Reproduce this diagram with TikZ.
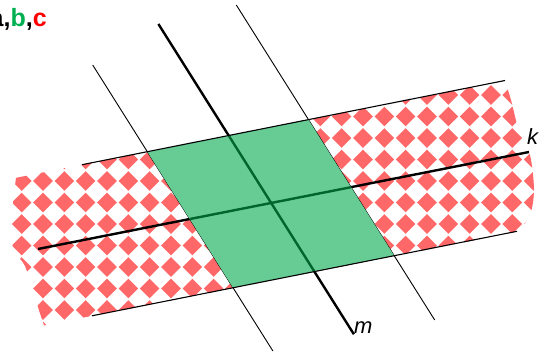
\documentclass[tikz,border=0pt]{standalone}
\usepackage{fontspec}
\setmainfont{Liberation Sans}
\definecolor{fillgreen}{RGB}{102,204,148}
\definecolor{darkgreen}{RGB}{0,100,45}
\definecolor{dotred}{RGB}{255,104,104}
\definecolor{titlegreen}{RGB}{0,176,80}
\definecolor{titlered}{RGB}{255,0,0}
\begin{document}
\begin{tikzpicture}[x=1pt,y=-1pt,
  thickline/.style={line width=2.4pt},
  thinline/.style={line width=0.9pt},
  edgeline/.style={line width=1.1pt},
  lbl/.style={anchor=base west,inner sep=0pt,font=\itshape\fontsize{22}{26}\selectfont}]
\useasboundingbox (0,0) rectangle (547,353);
% key points
\coordinate (TA) at (82,164.7);
\coordinate (TB) at (505,80.5);
\coordinate (BA) at (92,315.8);
\coordinate (BB) at (517,231.3);
\coordinate (K1) at (38,249);
\coordinate (K2) at (529,152);
\coordinate (M1) at (158.4,24);
\coordinate (M2) at (353.9,334.3);
\coordinate (L1) at (92.7,65);
\coordinate (L2) at (272.9,351);
\coordinate (R1) at (236.3,5);
\coordinate (R2) at (434.7,320);
\coordinate (G1) at (147.3,151.7);
\coordinate (G2) at (308.4,119.6);
\coordinate (G3) at (394.2,255.7);
\coordinate (G4) at (233.0,287.7);
\coordinate (KL) at (intersection of K1--K2 and G1--G4);
\coordinate (KR) at (intersection of K1--K2 and G2--G3);
\coordinate (MT) at (intersection of M1--M2 and G1--G2);
\coordinate (MB) at (intersection of M1--M2 and G4--G3);
% patterned strip
\begin{scope}
\clip (16,177.8) -- (505,80.5)
  -- plot[smooth] coordinates {(505,80.5) (511,100) (518,127) (530,155) (534,190) (530,215) (518,231.5)}
  -- (44,325.4)
  -- plot[smooth] coordinates {(44,325.4) (35,298) (25,266) (13,248) (12,215) (16,177.8)}
  -- cycle;
\foreach \i in {0,...,25}{
  \foreach \j in {-1,...,12}{
    \pgfmathsetmacro\cx{21.7+21.33*\i}
    \pgfmathsetmacro\cy{95+21.5*\j}
    \fill[dotred] (\cx-9.8,\cy) -- (\cx,\cy-9.8) -- (\cx+9.8,\cy) -- (\cx,\cy+9.8) -- cycle;
  }
}
\end{scope}
% lines
\draw[thinline] (L1) -- (L2);
\draw[thinline] (R1) -- (R2);
\draw[thickline] (K1) -- (K2);
\draw[thickline] (M1) -- (M2);
% green parallelogram
\fill[fillgreen] (G1) -- (G2) -- (G3) -- (G4) -- cycle;
\draw[thickline,darkgreen] (KL) -- (KR);
\draw[thickline,darkgreen] (MT) -- (MB);
% strip edges
\draw[edgeline] (TA) -- (TB);
\draw[edgeline] (BA) -- (BB);
% labels
\node[lbl] (klabel) at (527,144) {k};
\node[lbl] (mlabel) at (354,333) {m};
\node[anchor=base west,inner sep=0pt,font=\bfseries\fontsize{25}{29}\selectfont] (title) at (-10.5,26.5) {a,{\color{titlegreen}b},{\color{titlered}c}};
\end{tikzpicture}
\end{document}
